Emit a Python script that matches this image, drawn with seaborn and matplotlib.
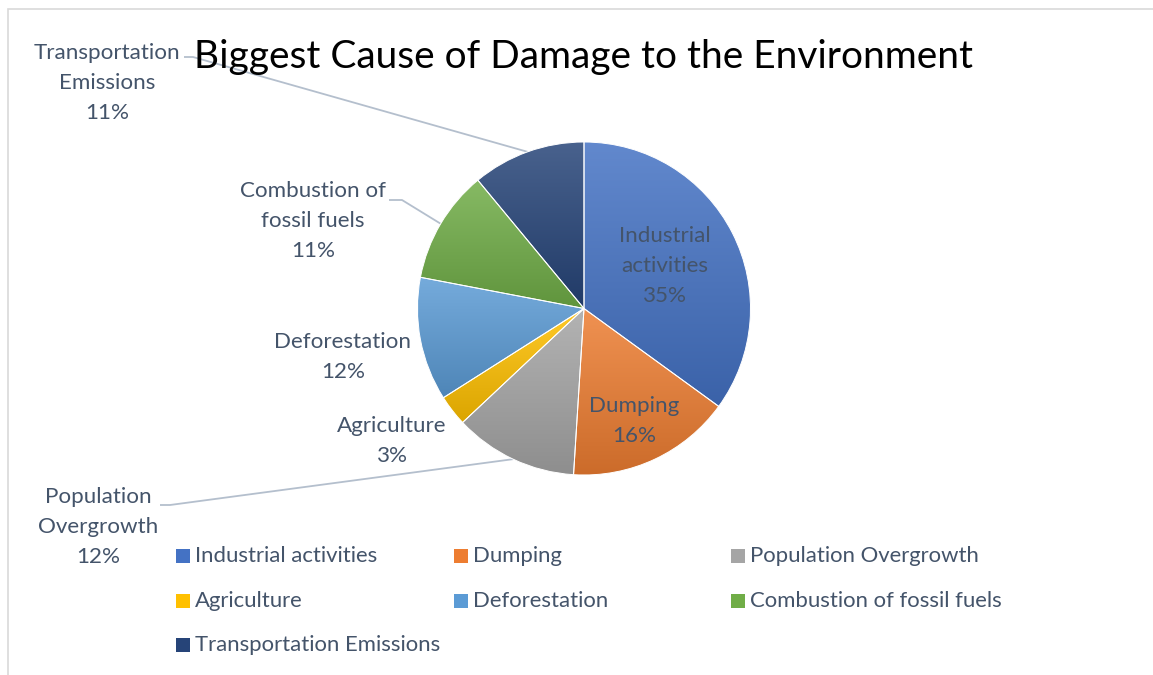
import numpy as np
import matplotlib
matplotlib.use("Agg")
import matplotlib.pyplot as plt
import seaborn as sns
from matplotlib.colors import to_rgb
from matplotlib.patches import Rectangle

# ---- data ----
categories = ["Industrial activities", "Dumping", "Population Overgrowth", "Agriculture",
              "Deforestation", "Combustion of fossil fuels", "Transportation Emissions"]
values = [35, 16, 12, 3, 12, 11, 11]
slice_labels = ["Industrial\nactivities", "Dumping", "Population\nOvergrowth", "Agriculture",
                "Deforestation", "Combustion of\nfossil fuels", "Transportation\nEmissions"]
colors_hex = ["#4472C4", "#ED7D31", "#A5A5A5", "#FFC000", "#5B9BD5", "#70AD47", "#264478"]
title = "Biggest Cause of Damage to the Environment"

sns.set_theme(style="white")
plt.rcParams["font.family"] = ["Lato", "DejaVu Sans"]
palette = sns.color_palette(colors_hex)

W, H = 1153, 675
fig = plt.figure(figsize=(W / 100, H / 100), dpi=100)
ax = fig.add_axes([0, 0, 1, 1])


def Y(y):
    return H - y


label_color = "#44546A"
line_color = "#B4BFCD"

renderer = fig.canvas.get_renderer()


def fit(text, target, **kw):
    t = fig.text(0, 0, text, fontsize=10, **kw)
    w = t.get_window_extent(renderer).width
    t.remove()
    return 10 * target / w


cx, cy, R = 584, Y(308.5), 166.5
wedges, _ = ax.pie(values, colors=palette, startangle=90, counterclock=False,
                   center=(cx, cy), radius=R,
                   wedgeprops=dict(edgecolor="white", linewidth=0.7))

# gradient fill per wedge (lighter at top, darker at bottom)
for w, c in zip(wedges, palette):
    ext = w.get_path().get_extents()
    c = np.array(to_rgb(c))
    light = c + (1 - c) * 0.16
    dark = c * 0.86
    t = np.linspace(0, 1, 256)[:, None, None]
    arr = light[None, None, :] * (1 - t) + dark[None, None, :] * t
    arr = np.repeat(arr, 2, axis=1)
    im = ax.imshow(arr, extent=(ext.x0, ext.x1, ext.y0, ext.y1), origin="upper",
                   aspect="auto", zorder=1.5, interpolation="bilinear")
    im.set_clip_path(w)
    w.set_facecolor("none")
    w.set_zorder(2)

ax.set_xlim(0, W)
ax.set_ylim(0, H)
ax.set_aspect("auto")
ax.axis("off")

# ---- labels ----
lab_fs = fit("Transportation", 147)
pos = {
    0: (665, 266),
    1: (634, 421),
    2: (98, 527),
    3: (392, 441),
    4: (343, 357),
    5: (313, 221),
    6: (107, 83),
}
for i, (x, y) in pos.items():
    ax.text(x, Y(y), f"{slice_labels[i]}\n{values[i]}%", ha="center", va="center",
            fontsize=lab_fs, color=label_color, linespacing=1.6, zorder=5)

# leader lines to wedge mid-angles
cum = np.cumsum([0] + values)


def edge_point(i):
    frac = (cum[i] + cum[i + 1]) / 2 / sum(values)
    ang = np.deg2rad(90 - 360 * frac)
    return cx + R * np.cos(ang), cy + R * np.sin(ang)


leaders = {6: [(184, 57), (193, 57)], 5: [(389, 200), (402, 200)], 2: [(160, 505), (170, 505)]}
for i, pts in leaders.items():
    ex, ey = edge_point(i)
    xs = [p[0] for p in pts] + [ex]
    ys = [Y(p[1]) for p in pts] + [ey]
    ax.plot(xs, ys, color=line_color, lw=1.3, zorder=1, solid_capstyle="butt")

# ---- title ----
title_fs = fit(title, 778)
ax.text(584, Y(57), title, ha="center", va="center", fontsize=title_fs, color="black", zorder=5)

# ---- legend (row-major grid) ----
leg_fs = fit("Industrial activities", 182)
col_x = [176, 454, 731]
row_y = [556, 601, 645]
sq = 14
for i, name in enumerate(categories):
    r, cidx = divmod(i, 3)
    x, y = col_x[cidx], row_y[r]
    ax.add_patch(Rectangle((x, Y(y) - sq / 2), sq, sq, facecolor=palette[i], edgecolor="none", zorder=5))
    ax.text(x + sq + 5, Y(y), name, ha="left", va="center", fontsize=leg_fs, color=label_color, zorder=5)

# chart border
ax.add_patch(Rectangle((7.5, -10), W + 20, Y(8) + 10 - 0.5, facecolor="none",
                       edgecolor="#D9D9D9", lw=1.2, zorder=0, clip_on=False))

fig.savefig("out.png", dpi=100)
